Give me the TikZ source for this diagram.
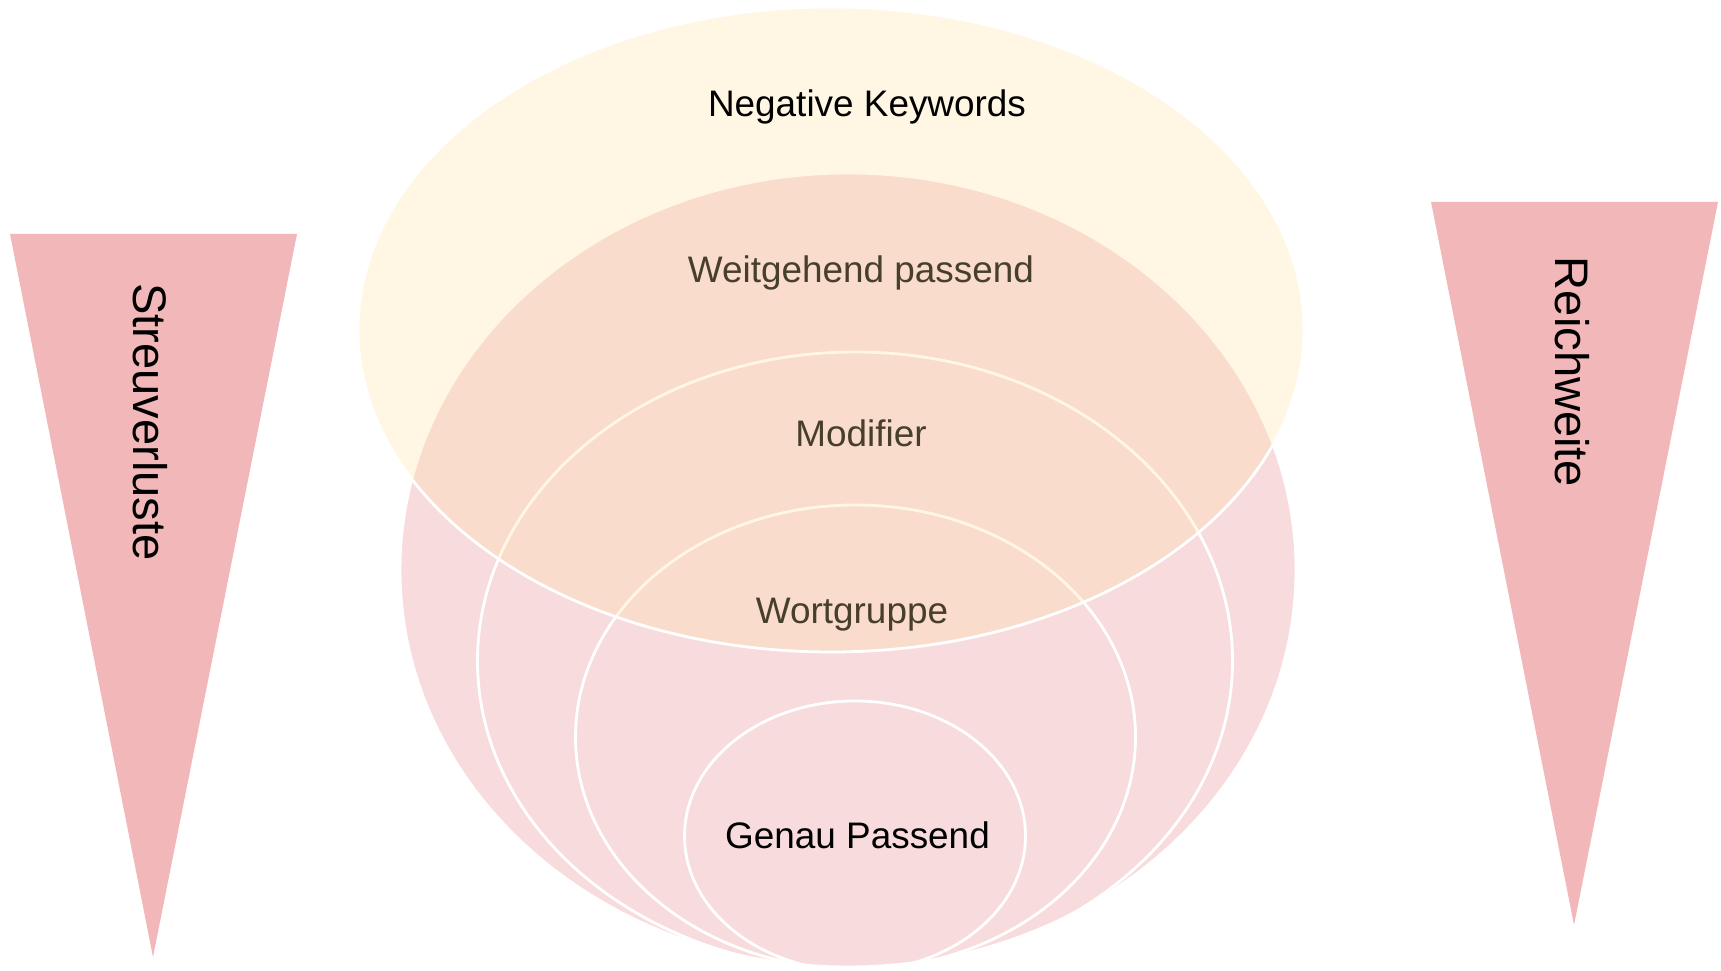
\documentclass[tikz,border=0pt]{standalone}
\usepackage{fontspec}
\setmainfont{Liberation Sans}
\usepackage{xcolor}
\definecolor{wedgepink}{RGB}{242,184,185}
\definecolor{ringpink}{RGB}{248,219,220}
\definecolor{negyellow}{RGB}{255,226,159}
\tikzstyle{ring} = [draw=white, line width=0.8pt]
\tikzstyle{wedge} = [fill=wedgepink]
\tikzstyle{lbl} = [font=\fontsize{10.5}{12.6}\selectfont, anchor=base, inner sep=0pt]
\tikzstyle{sidelbl} = [font=\fontsize{13.4}{16}\selectfont, anchor=base, rotate=-90, inner sep=0pt]

\begin{document}
\begin{tikzpicture}

\useasboundingbox (0,0) rectangle (17.21,9.70);
\clip (0,0) rectangle (17.21,9.70);

% Left wedge
\fill[wedge] (0.10,7.36) -- (2.97,7.36) -- (1.53,0.13) -- cycle;
\node[sidelbl] (streu) at (1.33,5.48) {Streuverluste};

% Right wedge
\fill[wedge] (14.31,7.68) -- (17.18,7.68) -- (15.74,0.45) -- cycle;
\node[sidelbl] (reich) at (15.55,5.98) {Reichweite};

% Outer ring
\draw[ring, fill=ringpink] (8.48,4.00) ellipse (4.48 and 3.97);
\node[lbl] (weit) at (8.61,6.87) {Weitgehend passend};

% Inner rings
\draw[ring] (8.55,3.09) ellipse (3.775 and 3.09);
\node[lbl] (modi) at (8.61,5.23) {Modifier};

\draw[ring] (8.555,2.33) ellipse (2.80 and 2.32);
\node[lbl] (wort) at (8.52,3.465) {Wortgruppe};

\draw[ring] (8.55,1.34) ellipse (1.705 and 1.35);
\node[lbl] (genau) at (8.575,1.22) {Genau Passend};

% Negative keywords on top
\draw[ring, fill=negyellow, fill opacity=0.28] (8.31,6.405) ellipse (4.73 and 3.225);
\node[lbl] (neg) at (8.67,8.53) {Negative Keywords};

\end{tikzpicture}
\end{document}
